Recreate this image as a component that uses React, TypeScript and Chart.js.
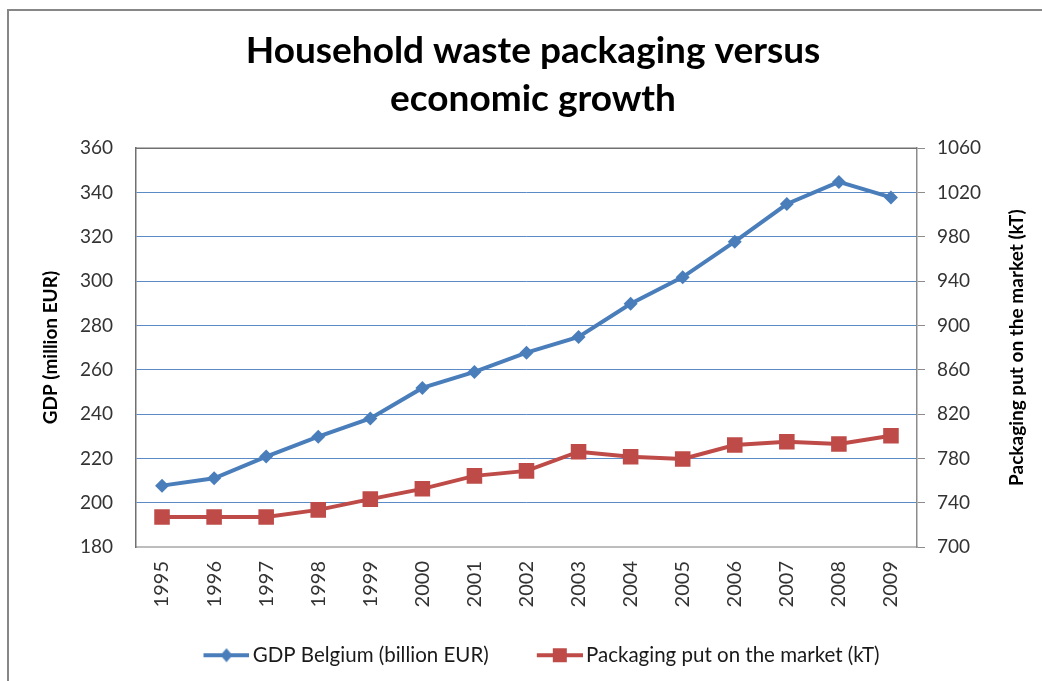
import React, { useEffect, useRef } from 'react';
import { Chart, registerables } from 'chart.js';

Chart.register(...registerables);

const years = ['1995', '1996', '1997', '1998', '1999', '2000', '2001', '2002', '2003', '2004', '2005', '2006', '2007', '2008', '2009'];
const gdpValues = [207.7, 211, 220.8, 229.8, 238, 251.8, 259, 267.7, 274.8, 289.8, 301.8, 317.8, 334.8, 344.8, 337.8];
const packagingValues = [727, 727, 727, 733.5, 743.2, 752.5, 764.2, 768.7, 786, 781.5, 779.4, 792, 795, 792.9, 800.4];

const titleLines = ['Household waste packaging versus', 'economic growth'];
const gdpLabel = 'GDP Belgium (billion EUR)';
const packagingLabel = 'Packaging put on the market (kT)';
const leftAxisTitle = 'GDP (million EUR)';
const rightAxisTitle = 'Packaging put on the market (kT)';

const leftMin = 180, leftMax = 360, leftStep = 20;
const rightMin = 700, rightMax = 1060, rightStep = 40;

const BLUE = '#4a7ebb';
const RED = '#be4b48';
const GRID = '#5b8bc6';
const FONT = 'Lato';

function legendIcon(color: string, marker: 'diamond' | 'square'): HTMLCanvasElement {
  // 70 px wide image; the visible line+marker sits in the right-most 46 px
  const c = document.createElement('canvas');
  c.width = 70;
  c.height = 20;
  const g = c.getContext('2d')!;
  const x0 = 24;
  g.strokeStyle = color;
  g.lineWidth = 4;
  g.beginPath();
  g.moveTo(x0, 10);
  g.lineTo(x0 + 46, 10);
  g.stroke();
  g.fillStyle = color;
  if (marker === 'diamond') {
    g.beginPath();
    g.moveTo(x0 + 23, 3);
    g.lineTo(x0 + 29, 10);
    g.lineTo(x0 + 23, 17);
    g.lineTo(x0 + 17, 10);
    g.closePath();
    g.fill();
  } else {
    g.fillRect(x0 + 16, 3, 14, 14);
  }
  return c;
}

const framePlugin = {
  id: 'frameAndRightTitle',
  beforeDatasetsDraw(chart: any) {
    const { ctx, chartArea } = chart;
    ctx.save();
    ctx.strokeStyle = '#707070';
    ctx.lineWidth = 1.5;
    ctx.beginPath();
    ctx.moveTo(chartArea.left, chartArea.top);
    ctx.lineTo(chartArea.right, chartArea.top);
    ctx.stroke();
    ctx.restore();
  },
  afterDraw(chart: any) {
    const { ctx, chartArea } = chart;
    ctx.save();
    ctx.translate(chartArea.right + 100, (chartArea.top + chartArea.bottom) / 2);
    ctx.rotate(-Math.PI / 2);
    ctx.font = `bold 19px ${FONT}`;
    ctx.fillStyle = '#000000';
    ctx.textAlign = 'center';
    ctx.textBaseline = 'middle';
    ctx.fillText(rightAxisTitle, 0, 0);
    ctx.restore();
  },
};

export default function App() {
  const canvasRef = useRef<HTMLCanvasElement | null>(null);

  useEffect(() => {
    if (!canvasRef.current) return;
    const icons = [legendIcon(BLUE, 'diamond'), legendIcon(RED, 'square')];
    const chart = new Chart(canvasRef.current, {
      type: 'line',
      data: {
        labels: years,
        datasets: [
          {
            label: gdpLabel,
            data: gdpValues,
            borderColor: BLUE,
            backgroundColor: BLUE,
            borderWidth: 4,
            pointStyle: 'rectRot',
            pointRadius: 7,
            pointBorderWidth: 0,
            yAxisID: 'y',
            tension: 0,
          },
          {
            label: packagingLabel,
            data: packagingValues,
            borderColor: RED,
            backgroundColor: RED,
            borderWidth: 4,
            pointStyle: 'rect',
            pointRadius: 11,
            pointBorderWidth: 0,
            yAxisID: 'y1',
            tension: 0,
          },
        ],
      },
      options: {
        animation: false,
        responsive: false,
        maintainAspectRatio: false,
        layout: { padding: { left: 0, right: 0, top: 0, bottom: 5.5 } },
        plugins: {
          title: {
            display: true,
            text: titleLines,
            color: '#000000',
            font: { family: FONT, size: 37, weight: 'bold', lineHeight: 1.3 },
            padding: { top: 27, bottom: 25 },
          },
          legend: {
            position: 'bottom',
            labels: {
              usePointStyle: true,
              pointStyleWidth: 56,
              padding: 31,
              color: '#1a1a1a',
              font: { family: FONT, size: 20.5 },
              generateLabels: (c: any) => {
                const items = Chart.defaults.plugins.legend.labels.generateLabels(c);
                return items.map((it: any, i: number) => ({ ...it, pointStyle: icons[i], rotation: 0 }));
              },
            },
          },
          tooltip: { enabled: false },
        },
        scales: {
          x: {
            type: 'category',
            offset: true,
            grid: { display: true, drawOnChartArea: false, drawTicks: false },
            border: { display: true, color: '#bdbdbd', width: 2 },
            ticks: {
              color: '#333333',
              font: { family: FONT, size: 20 },
              maxRotation: 90,
              minRotation: 90,
              padding: 14,
              autoSkip: false,
            },
            afterFit: (s: any) => { s.height = 67; },
          },
          y: {
            position: 'left',
            min: leftMin,
            max: leftMax,
            ticks: {
              stepSize: leftStep,
              color: '#333333',
              font: { family: FONT, size: 19 },
              padding: 23,
            },
            grid: {
              drawTicks: false,
              lineWidth: 1,
              color: (ctx: any) => (ctx.tick && (ctx.tick.value === leftMin || ctx.tick.value === leftMax) ? 'rgba(0,0,0,0)' : GRID),
            },
            border: { display: true, color: '#707070', width: 1.5 },
            title: {
              display: true,
              text: leftAxisTitle,
              color: '#000000',
              font: { family: FONT, size: 19, weight: 'bold', lineHeight: 1.2 },
              padding: { top: 39, bottom: 0 },
            },
            afterFit: (s: any) => { s.width = 136; },
          },
          y1: {
            position: 'right',
            min: rightMin,
            max: rightMax,
            ticks: {
              stepSize: rightStep,
              color: '#333333',
              font: { family: FONT, size: 19 },
              padding: 12,
              callback: (v: any) => String(v),
            },
            grid: { drawOnChartArea: false, drawTicks: true, tickLength: 8, color: '#8c8c8c' },
            border: { display: true, color: '#8c8c8c', width: 1.5 },
            afterFit: (s: any) => { s.width = 149; },
          },
        },
      },
      plugins: [framePlugin],
    });
    return () => chart.destroy();
  }, []);

  return (
    <div style={{ position: 'fixed', left: 0, top: 0, width: 1042, height: 681, overflow: 'hidden', background: '#ffffff' }}>
      <div
        style={{
          position: 'absolute',
          left: 7,
          top: 9,
          width: 1080,
          height: 720,
          border: '2px solid #878787',
          boxSizing: 'border-box',
        }}
      />
      <canvas ref={canvasRef} width={1066} height={681} style={{ position: 'absolute', left: 0, top: 0, width: 1066, height: 681 }} />
    </div>
  );
}
